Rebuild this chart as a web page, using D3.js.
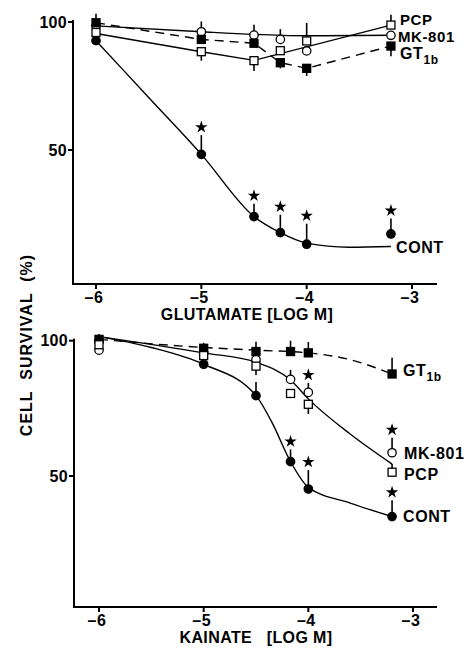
<!DOCTYPE html>
<html>
<head>
<meta charset="utf-8">
<script src="https://cdn.jsdelivr.net/npm/d3@7"></script>
<style>
  body { margin: 0; background: #fff; }
  svg text { font-family: "Liberation Sans", Arial, sans-serif; font-weight: bold; fill: #000; }
</style>
</head>
<body>
<div id="chart"></div>
<script>
// ---- data (log M on x, % survival on y) ----
var gluDoses = [-6, -5, -4.5, -4.25, -4, -3.2];
var gluCont  = [92.7, 48.3, 24, 17.7, 13.2, 17.2];
var gluMk    = [98.5, 96.2, 94.9, 93.2, 88.7, 94.8];
var gluPcp   = [95.9, 88.4, 84.9, 88.8, 92.6, 98.8];
var gluGt    = [99.7, 93.2, 91.7, 84.1, 81.9, 90.6];
// signed error bars: + drawn upward, - drawn downward
var gluContErr = [0, 7.5, 5, 7, 8, 6];
var gluMkErr   = [0, 4, 4, 4, 0, 0];
var gluPcpErr  = [0, -3.5, -4, 0, 7, 4];
var gluGtErr   = [3.5, 0, 0, -2.2, -3, -4];
var gluContStar = [0, 1, 1, 1, 1, 1];

// fitted curves drawn through the glutamate data
var gluContFitX = [-6, -5.5, -5, -4.5, -4.25, -4, -3.6, -3.2];
var gluContFitY = [92.7, 70.5, 48.3, 24, 17.7, 13.6, 12, 12.3];
var gluMkFitX   = [-6, -5, -4.5, -4, -3.2];
var gluMkFitY   = [98.5, 96.2, 95.2, 94.6, 94.8];
var gluPcpFitX  = [-6, -5, -4.5, -3.2];
var gluPcpFitY  = [95.5, 88.4, 85, 98.8];

var kaiDoses = [-6, -5, -4.5, -4.17, -4, -3.2];
var kaiCont  = [100, 91.3, 79.7, 55.3, 45.2, 35];
var kaiMk    = [96.5, 95.5, 93, 85.7, 80.9, 58.6];
var kaiPcp   = [98.5, 94.5, 90.6, 80.5, 76.5, 51.4];
var kaiGt    = [100.5, 97.2, 96, 96, 95.5, 87.7];
var kaiContErr = [0, 0, 5, 4.5, 7, 6];
var kaiMkErr   = [0, 0, 0, 3.5, 3.5, 5.5];
var kaiPcpErr  = [0, 0, -3.3, 0, -3.6, 3];
var kaiGtErr   = [2, 2, 3.6, 4, 4, 6];
var kaiContStar = [0, 0, 0, 1, 1, 1];
var kaiMkStar   = [0, 0, 0, 0, 1, 1];

var kaiContFitX = [-6, -5.5, -5, -4.5, -4.35, -4.17, -4, -3.6, -3.2];
var kaiContFitY = [101.5, 97.5, 91.3, 79.7, 70, 55.3, 45.8, 40, 35];
var kaiMidFitX  = [-6, -5, -4.5, -4.17, -4, -3.6, -3.2];
var kaiMidFitY  = [101.5, 95.5, 92, 85.5, 78.5, 65.5, 54.4];
var kaiGtFitX   = [-6, -5, -4.5, -4, -3.6, -3.2];
var kaiGtFitY   = [100.5, 97.5, 96.5, 95.5, 93, 87.7];

var xTicks = [-6, -5, -4, -3];
var yTicks = [50, 100];

var width = 465, height = 651;

var svg = d3.select('#chart').append('svg')
  .attr('width', width)
  .attr('height', height);

function zip(xs, ys){
  return xs.map(function(x, i){ return [x, ys[i]]; });
}

function drawPanel(p){
  var x = d3.scaleLinear().domain([-6, -3]).range([p.x6, p.x3]);
  var y = d3.scaleLinear().domain([0, 100]).range([p.y0, p.y100]);
  var g = svg.append('g');

  // axes
  g.append('path')
    .attr('d', 'M' + p.axisLeft + ',' + (p.y100 - 2) + 'V' + p.axisBottom + 'H' + p.axisRight)
    .attr('fill', 'none').attr('stroke', '#000').attr('stroke-width', 2);

  xTicks.forEach(function(t){
    g.append('line')
      .attr('x1', x(t)).attr('x2', x(t))
      .attr('y1', p.axisBottom).attr('y2', p.axisBottom + 5)
      .attr('stroke', '#000').attr('stroke-width', 2);
    g.append('text')
      .attr('x', x(t) - 2).attr('y', p.axisBottom + 19)
      .attr('text-anchor', 'middle')
      .style('font-size', '16px')
      .style('letter-spacing', '0.5px')
      .text('\u2013' + Math.abs(t));
  });
  yTicks.forEach(function(t){
    g.append('line')
      .attr('x1', p.axisLeft - 5).attr('x2', p.axisLeft)
      .attr('y1', y(t)).attr('y2', y(t))
      .attr('stroke', '#000').attr('stroke-width', 2);
    g.append('text')
      .attr('x', p.axisLeft - 6).attr('y', y(t) + 5.5)
      .attr('text-anchor', 'end')
      .style('font-size', '16px')
      .style('letter-spacing', '0.3px')
      .text(t);
  });

  g.append('text')
    .attr('x', p.titleX).attr('y', p.axisBottom + 36)
    .attr('text-anchor', 'middle')
    .style('font-size', '16px')
    .style('letter-spacing', '0.4px')
    .attr('xml:space', 'preserve')
    .text(p.title);

  // curves
  var line = d3.line()
    .x(function(d){ return x(d[0]); })
    .y(function(d){ return y(d[1]); });

  p.curves.forEach(function(c){
    g.append('path')
      .attr('d', line.curve(c.curve)(zip(c.xs, c.ys)))
      .attr('fill', 'none')
      .attr('stroke', '#000')
      .attr('stroke-width', 1.4)
      .attr('stroke-dasharray', c.dashed ? '9,6' : null);
  });

  // error bars + stars, then markers
  p.series.forEach(function(s){
    s.values.forEach(function(v, i){
      var e = s.err[i];
      if(e){
        g.append('line')
          .attr('x1', x(s.xs[i])).attr('x2', x(s.xs[i]))
          .attr('y1', y(v)).attr('y2', y(v + e))
          .attr('stroke', '#000').attr('stroke-width', 1.6);
      }
      if(s.star && s.star[i]){
        g.append('path')
          .attr('d', d3.symbol(d3.symbolStar).size(48)())
          .attr('transform', 'translate(' + x(s.xs[i]) + ',' + (y(v + e) - 8) + ')')
          .attr('fill', '#000');
      }
    });
  });

  p.series.forEach(function(s){
    s.values.forEach(function(v, i){
      var cx = x(s.xs[i]), cy = y(v);
      if(s.shape == 'circle'){
        g.append('circle')
          .attr('cx', cx).attr('cy', cy).attr('r', 4.2)
          .attr('fill', s.filled ? '#000' : '#fff')
          .attr('stroke', '#000').attr('stroke-width', 1.3);
      } else {
        g.append('rect')
          .attr('x', cx - 4).attr('y', cy - 4)
          .attr('width', 8).attr('height', 8)
          .attr('fill', s.filled ? '#000' : '#fff')
          .attr('stroke', '#000').attr('stroke-width', 1.3);
      }
    });
  });

  // series labels
  p.labels.forEach(function(l){
    var t = g.append('text')
      .attr('x', l.x).attr('y', y(l.v) + 6)
      .style('font-size', (l.size || 16) + 'px')
      .style('letter-spacing', '0.6px');
    if(l.sub){
      t.append('tspan').text(l.text);
      t.append('tspan').attr('dy', 5).style('font-size', '12px').text(l.sub);
    } else {
      t.text(l.text);
    }
  });
}

drawPanel({
  x6: 96, x3: 412, y0: 278, y100: 22,
  axisLeft: 73, axisRight: 437, axisBottom: 284,
  title: 'GLUTAMATE [LOG M]', titleX: 247,
  curves: [
    { xs: gluContFitX, ys: gluContFitY, curve: d3.curveMonotoneX },
    { xs: gluMkFitX, ys: gluMkFitY, curve: d3.curveMonotoneX },
    { xs: gluPcpFitX, ys: gluPcpFitY, curve: d3.curveLinear },
    { xs: gluDoses, ys: gluGt, curve: d3.curveLinear, dashed: true }
  ],
  series: [
    { xs: gluDoses, values: gluCont, err: gluContErr, star: gluContStar, shape: 'circle', filled: true },
    { xs: gluDoses, values: gluMk, err: gluMkErr, shape: 'circle', filled: false },
    { xs: gluDoses, values: gluGt, err: gluGtErr, shape: 'square', filled: true },
    { xs: gluDoses, values: gluPcp, err: gluPcpErr, shape: 'square', filled: false }
  ],
  labels: [
    { text: 'PCP', v: 101, x: 400, size: 15 },
    { text: 'MK-801', v: 94.5, x: 398, size: 15 },
    { text: 'GT', sub: '1b', v: 88, x: 400 },
    { text: 'CONT', v: 12.1, x: 396 }
  ]
});

drawPanel({
  x6: 99, x3: 413, y0: 611.3, y100: 340.7,
  axisLeft: 74, axisRight: 437, axisBottom: 607,
  title: 'KAINATE   [LOG M]', titleX: 256,
  curves: [
    { xs: kaiContFitX, ys: kaiContFitY, curve: d3.curveMonotoneX },
    { xs: kaiMidFitX, ys: kaiMidFitY, curve: d3.curveMonotoneX },
    { xs: kaiGtFitX, ys: kaiGtFitY, curve: d3.curveMonotoneX, dashed: true }
  ],
  series: [
    { xs: kaiDoses, values: kaiCont, err: kaiContErr, star: kaiContStar, shape: 'circle', filled: true },
    { xs: kaiDoses, values: kaiMk, err: kaiMkErr, star: kaiMkStar, shape: 'circle', filled: false },
    { xs: kaiDoses, values: kaiGt, err: kaiGtErr, shape: 'square', filled: true },
    { xs: kaiDoses, values: kaiPcp, err: kaiPcpErr, shape: 'square', filled: false }
  ],
  labels: [
    { text: 'GT', sub: '1b', v: 89, x: 403 },
    { text: 'MK-801', v: 58.5, x: 404 },
    { text: 'PCP', v: 50.7, x: 404 },
    { text: 'CONT', v: 35.2, x: 403 }
  ]
});

// shared y label
svg.append('text')
  .attr('transform', 'translate(32,345) rotate(-90)')
  .attr('text-anchor', 'middle')
  .style('font-size', '16px')
  .style('letter-spacing', '1px')
  .attr('xml:space', 'preserve')
  .text('CELL  SURVIVAL  (%)');
</script>
</body>
</html>
